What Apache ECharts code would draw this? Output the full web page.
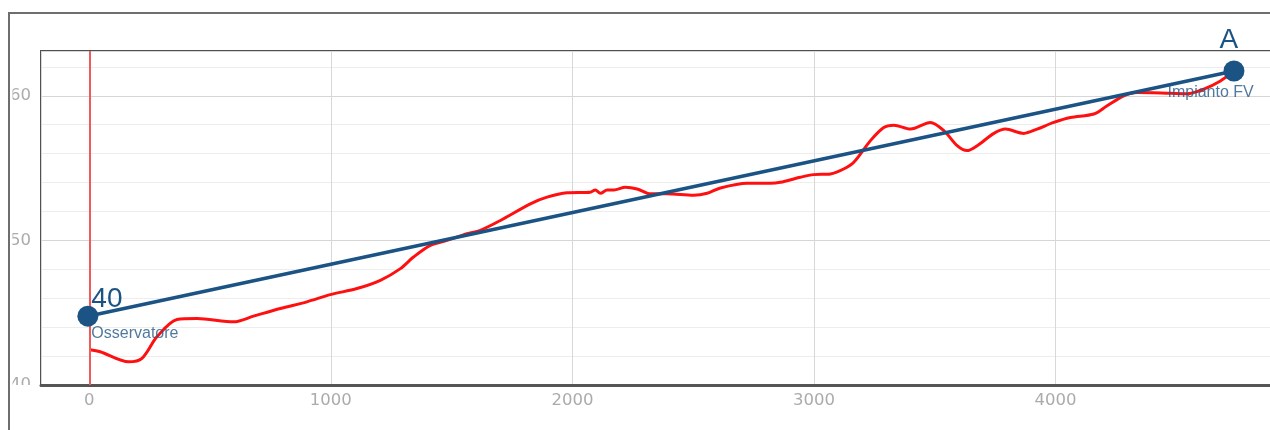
<!DOCTYPE html>
<html><head><meta charset="utf-8">
<script src="https://cdn.jsdelivr.net/npm/echarts@6/dist/echarts.min.js"></script>
<style>
html,body{margin:0;padding:0;width:1270px;height:430px;overflow:hidden;background:#fff;}
#frame{position:absolute;left:8px;top:12px;width:1320px;height:440px;border-left:2px solid #6e6e6e;border-top:2px solid #6e6e6e;overflow:hidden;}
#chart{position:absolute;left:-10px;top:-14px;width:1330px;height:430px;}
</style></head>
<body>
<div id="frame"><div id="chart"></div></div>
<script>
// Terrain profile (distance m, elevation m)
const profileDist = [0,45,163,218,280,363,446,598,680,791,901,998,1108,1205,1288,1342,1412,1481,1564,1619,1702,1826,1895,1978,2074,2095,2116,2144,2172,2219,2268,2323,2392,2502,2558,2613,2723,2820,2861,2944,2999,3068,3123,3165,3234,3289,3331,3400,3482,3538,3593,3634,3676,3745,3793,3869,3924,3993,4062,4159,4214,4283,4338,4476,4545,4614,4683,4730];
const profileElev = [142.46,142.3,141.6,141.84,143.33,144.53,144.6,144.37,144.76,145.29,145.75,146.25,146.67,147.24,148.05,148.85,149.66,150.0,150.46,150.7,151.38,152.53,152.99,153.29,153.33,153.49,153.26,153.49,153.49,153.68,153.56,153.22,153.22,153.12,153.26,153.63,153.95,153.95,154.02,154.37,154.55,154.6,154.94,155.4,156.9,157.81,157.97,157.7,158.16,157.59,156.55,156.21,156.55,157.4,157.7,157.4,157.7,158.16,158.5,158.74,159.31,160.0,160.23,160.18,160.15,160.46,161.03,161.6];
// Line of sight endpoints
const sightDist = [-6, 4739];
const sightElev = [144.76, 161.72];
const sightTopLabels = ['40', 'A'];
const sightNames = ['Osservatore', 'Impianto FV'];
const xRange = [-200, 5000];
const yRange = [140, 163.1];

const blue = '#1b5384';
const axisFont = '"DejaVu Sans", sans-serif';
const chart = echarts.init(document.getElementById('chart'));
const profile = profileDist.map((d, i) => [d, profileElev[i]]);
const sight = sightDist.map((d, i) => [d, sightElev[i]]);

chart.setOption({
  animation: false,
  grid: {left: 41, top: 51, right: 33, bottom: 45, show: true, borderColor: '#505050', borderWidth: 2,
    containLabel: false, outerBoundsMode: 'none'},
  xAxis: {
    type: 'value', min: xRange[0], max: xRange[1], splitNumber: 5,
    axisLine: {show: true, lineStyle: {color: '#555', width: 3}},
    axisTick: {show: false},
    axisLabel: {color: '#ababab', fontFamily: axisFont, fontSize: 16.5, margin: 7,
      formatter: v => (v >= 0 && v % 1000 === 0) ? String(v) : ''},
    splitLine: {show: true, lineStyle: {color: '#d8d8d8', width: 1}}
  },
  yAxis: [{
    type: 'value', min: yRange[0], max: yRange[1], interval: 2, position: 'left',
    axisLine: {show: false}, axisTick: {show: false}, axisLabel: {show: false},
    splitLine: {show: true, lineStyle: {color: '#ededed', width: 1}}
  }, {
    type: 'value', min: yRange[0], max: yRange[1], interval: 10, position: 'left',
    axisLine: {show: false}, axisTick: {show: false},
    axisLabel: {color: '#ababab', fontFamily: axisFont, fontSize: 16.5, margin: 10,
      formatter: v => (Math.abs(v % 10) < 1e-6) ? String(v) : ''},
    splitLine: {show: true, lineStyle: {color: '#d6d6d6', width: 1}}
  }],
  graphic: [
    {type: 'rect', shape: {x: 10, y: 385, width: 28, height: 16}, style: {fill: '#fff'}, z: 100},
    {type: 'rect', shape: {x: 0, y: 40, width: 12.5, height: 360}, style: {fill: '#fff'}, z: 100}
  ],
  series: [{
    type: 'line', yAxisIndex: 1, data: profile, showSymbol: false, smooth: 0.3,
    lineStyle: {color: '#ff1010', width: 3}, z: 3,
    markLine: {silent: true, symbol: ['none', 'none'], label: {show: false},
      lineStyle: {color: '#f05a5a', width: 2, type: 'solid'}, data: [{xAxis: 0}]}
  }, {
    type: 'line', yAxisIndex: 1, data: sight.map((p, i) => ({value: p, label: {
        show: true, formatter: sightTopLabels[i],
        position: i === 0 ? [14, -6] : [5.5, -20],
        align: i === 0 ? 'left' : 'center', verticalAlign: 'middle'}})),
    symbol: 'circle', symbolSize: 21, showSymbol: true,
    itemStyle: {color: blue}, lineStyle: {color: blue, width: 3.5}, z: 5,
    label: {color: blue, fontFamily: 'Liberation Sans', fontSize: 28}
  }, {
    type: 'scatter', yAxisIndex: 1, data: sight.map((p, i) => ({value: p, label: {
        show: true, formatter: sightNames[i],
        position: i === 0 ? [14, 27.5] : [-56, 32],
        align: 'left', verticalAlign: 'middle'}})),
    symbolSize: 21, itemStyle: {color: 'rgba(0,0,0,0)'}, z: 6,
    label: {color: '#245784', fontFamily: 'Liberation Sans', fontSize: 16}
  }]
});
</script>
</body></html>
